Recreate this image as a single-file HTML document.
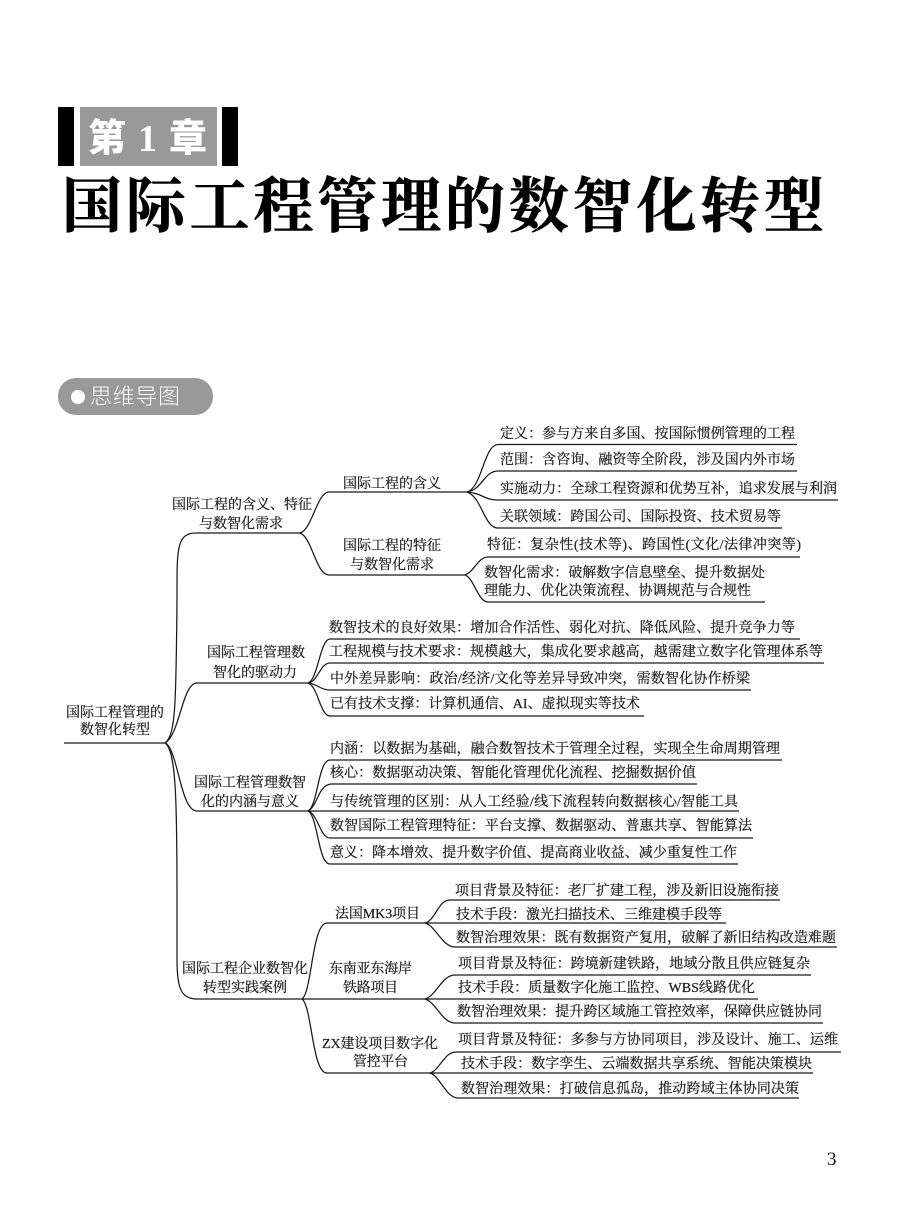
<!DOCTYPE html>
<html lang="zh"><head><meta charset="utf-8"><title>第1章 国际工程管理的数智化转型</title>
<style>
html,body{margin:0;padding:0;background:#fff}
svg{display:block}
text{font-family:"Liberation Serif","Noto Serif CJK SC",serif;font-size:14px;fill:#1c1c1c;stroke:#1c1c1c;stroke-width:.22px}
path{fill:none;stroke:#1a1a1a;stroke-width:1.25}
.h{stroke:none}
</style></head><body>
<svg width="900" height="1218" viewBox="0 0 900 1218" xmlns="http://www.w3.org/2000/svg">
<rect width="900" height="1218" fill="#fff"/>
<rect x="58" y="107" width="16" height="59" fill="#000"/>
<rect x="80" y="107" width="137" height="59" fill="#999"/>
<rect x="222" y="107" width="16" height="59" fill="#000"/>
<text class="h" x="88" y="151" style="font-size:38px;font-weight:900;fill:#fff;font-family:'Noto Sans CJK SC',sans-serif">第</text>
<text class="h" x="138" y="151" style="font-size:38px;font-weight:700;fill:#fff">1</text>
<text class="h" x="169" y="151" style="font-size:38px;font-weight:900;fill:#fff;font-family:'Noto Sans CJK SC',sans-serif">章</text>
<text class="h" x="62" y="227" textLength="762" style="font-size:60px;font-weight:700;fill:#000;stroke:#000;stroke-width:.6px">国际工程管理的数智化转型</text>
<rect x="58" y="378" width="155" height="37" rx="18" fill="#999"/>
<circle cx="78" cy="397" r="7" fill="#fff"/>
<text class="h" x="90" y="404" textLength="90" style="font-size:22px;font-weight:300;fill:#fff;font-family:'Noto Sans CJK SC',sans-serif">思维导图</text>

<!-- connectors -->
<path d="M64 743H165"/>
<path d="M165 743C176 735 176 700 177 600C177 550 176 533 196 533H300"/>
<path d="M165 743C180 735 182 683 197 683H308"/>
<path d="M165 743C178 748 180 811 197 811H308H739"/>
<path d="M165 743C176 750 177 800 177 900V960C177 990 182 999 197 999H302H425"/>
<path d="M300 533C312 530 317 492 329 492H467"/>
<path d="M300 533C312 537 316 575 329 575H465"/>
<path d="M467 492C482 488 484 444.500 498 444.500H797"/>
<path d="M467 492C482 490 484 471 498 471H797"/>
<path d="M467 492C482 493 484 500 498 500H838"/>
<path d="M467 492C482 497 484 528 498 528H782"/>
<path d="M465 575C474 572 478 557 488 557H800"/>
<path d="M465 575C474 578 478 602 488 602H765"/>
<path d="M308 683C318 680 320 639 330 639H800"/>
<path d="M308 683C318 682 320 663 330 663H824"/>
<path d="M308 683C318 684 320 690 330 690H751"/>
<path d="M308 683C318 686 320 716 330 716H644"/>
<path d="M308 811C318 806 318 760 330 760H782"/>
<path d="M308 811C318 806 318 784 332 784H697"/>
<path d="M308 811C318 814 320 838 330 838H753"/>
<path d="M308 811C318 816 318 864 330 864H738"/>
<path d="M302 999C312 992 312 923 327 923H425"/>
<path d="M302 999C312 1006 312 1073 327 1073H430"/>
<path d="M425 923C436 920 438 900 450 900H780"/>
<path d="M425 923H726"/>
<path d="M425 923C436 926 442 947 455 947H837"/>
<path d="M425 999C436 996 442 975 455 975H811"/>
<path d="M425 999H758"/>
<path d="M425 999C436 1002 442 1023 455 1023H823"/>
<path d="M430 1073C440 1070 444 1052 456 1052H841"/>
<path d="M430 1073H813"/>
<path d="M430 1073C440 1076 446 1098 458 1098H799"/>

<!-- root and branch labels -->
<text x="66" y="717" textLength="98">国际工程管理的</text>
<text x="80" y="734" textLength="70">数智化转型</text>
<text x="172" y="509" textLength="140">国际工程的含义、特征</text>
<text x="199" y="528" textLength="84">与数智化需求</text>
<text x="207" y="657" textLength="98">国际工程管理数</text>
<text x="213" y="677" textLength="84">智化的驱动力</text>
<text x="194" y="787" textLength="112">国际工程管理数智</text>
<text x="201" y="806" textLength="98">化的内涵与意义</text>
<text x="182" y="973" textLength="126">国际工程企业数智化</text>
<text x="203" y="992" textLength="84">转型实践案例</text>
<!-- sub labels -->
<text x="343" y="488" textLength="98">国际工程的含义</text>
<text x="343" y="550" textLength="98">国际工程的特征</text>
<text x="350" y="569" textLength="84">与数智化需求</text>
<text x="335" y="918" textLength="85">法国MK3项目</text>
<text x="329" y="973" textLength="83">东南亚东海岸</text>
<text x="343" y="992" textLength="55">铁路项目</text>
<text x="322" y="1048" textLength="116">ZX建设项目数字化</text>
<text x="353" y="1066" textLength="55">管控平台</text>
<!-- leaves -->
<text x="500" y="438" textLength="295">定义&#xFF1A;参与方来自多国、按国际惯例管理的工程</text>
<text x="500" y="464" textLength="295">范围&#xFF1A;含咨询、融资等全阶段&#xFF0C;涉及国内外市场</text>
<text x="500" y="493" textLength="337">实施动力&#xFF1A;全球工程资源和优势互补&#xFF0C;追求发展与利润</text>
<text x="500" y="521" textLength="281">关联领域&#xFF1A;跨国公司、国际投资、技术贸易等</text>
<text x="487" y="549" textLength="314">特征&#xFF1A;复杂性(技术等)、跨国性(文化/法律冲突等)</text>
<text x="484" y="577" textLength="281">数智化需求&#xFF1A;破解数字信息壁垒、提升数据处</text>
<text x="484" y="595" textLength="267">理能力、优化决策流程、协调规范与合规性</text>
<text x="329" y="632" textLength="466">数智技术的良好效果&#xFF1A;增加合作活性、弱化对抗、降低风险、提升竞争力等</text>
<text x="329" y="656" textLength="494">工程规模与技术要求&#xFF1A;规模越大&#xFF0C;集成化要求越高&#xFF0C;越需建立数字化管理体系等</text>
<text x="330" y="683" textLength="420">中外差异影响&#xFF1A;政治/经济/文化等差异导致冲突&#xFF0C;需数智化协作桥梁</text>
<text x="330" y="708" textLength="310">已有技术支撑&#xFF1A;计算机通信、AI、虚拟现实等技术</text>
<text x="330" y="753" textLength="450">内涵&#xFF1A;以数据为基础&#xFF0C;融合数智技术于管理全过程&#xFF0C;实现全生命周期管理</text>
<text x="330" y="777" textLength="366">核心&#xFF1A;数据驱动决策、智能化管理优化流程、挖掘数据价值</text>
<text x="330" y="806" textLength="408">与传统管理的区别&#xFF1A;从人工经验/线下流程转向数据核心/智能工具</text>
<text x="330" y="830" textLength="422">数智国际工程管理特征&#xFF1A;平台支撑、数据驱动、普惠共享、智能算法</text>
<text x="330" y="857" textLength="407">意义&#xFF1A;降本增效、提升数字价值、提高商业收益、减少重复性工作</text>
<text x="455" y="895" textLength="324">项目背景及特征&#xFF1A;老厂扩建工程&#xFF0C;涉及新旧设施衔接</text>
<text x="456" y="919" textLength="266">技术手段&#xFF1A;激光扫描技术、三维建模手段等</text>
<text x="456" y="942" textLength="380">数智治理效果&#xFF1A;既有数据资产复用&#xFF0C;破解了新旧结构改造难题</text>
<text x="458" y="968" textLength="352">项目背景及特征&#xFF1A;跨境新建铁路&#xFF0C;地域分散且供应链复杂</text>
<text x="458" y="992" textLength="297">技术手段&#xFF1A;质量数字化施工监控、WBS线路优化</text>
<text x="457" y="1016" textLength="365">数智治理效果&#xFF1A;提升跨区域施工管控效率&#xFF0C;保障供应链协同</text>
<text x="458" y="1044" textLength="380">项目背景及特征&#xFF1A;多参与方协同项目&#xFF0C;涉及设计、施工、运维</text>
<text x="461" y="1068" textLength="351">技术手段&#xFF1A;数字孪生、云端数据共享系统、智能决策模块</text>
<text x="461" y="1093" textLength="338">数智治理效果&#xFF1A;打破信息孤岛&#xFF0C;推动跨域主体协同决策</text>
<text class="h" x="827" y="1165" style="font-size:19px">3</text>
</svg>
</body></html>
